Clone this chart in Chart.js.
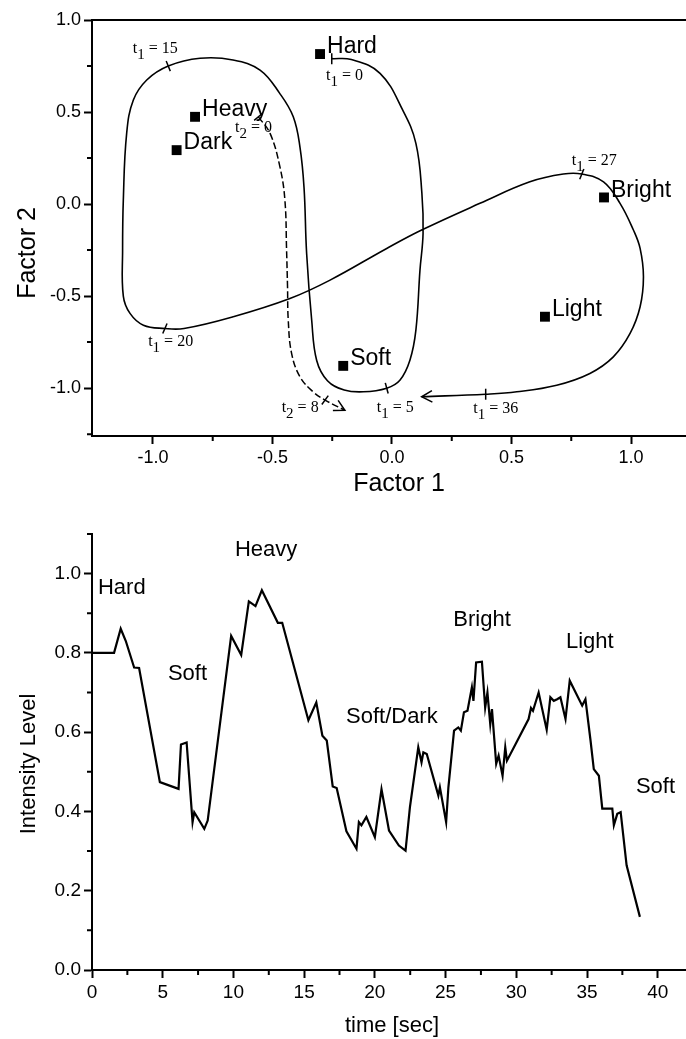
<!DOCTYPE html>
<html><head><meta charset="utf-8">
<script src="https://cdn.jsdelivr.net/npm/chart.js@4.4.1/dist/chart.umd.min.js"></script>
<style>
html,body{margin:0;padding:0;background:#fff;}
#wrap{position:relative;width:686px;height:1039px;overflow:hidden;background:#fff;}
#c1{position:absolute;left:0;top:0;}
#c2{position:absolute;left:0;top:510px;}
</style></head><body>
<div id="wrap"><canvas id="c1" width="686" height="510"></canvas><canvas id="c2" width="686" height="529"></canvas></div>
<script>
// ---------- Top chart: perceptual space ----------
const attributeNames = ['Hard', 'Heavy', 'Dark', 'Bright', 'Light', 'Soft'];
const attributeFactor1 = [-0.301, -0.824, -0.901, 0.887, 0.640, -0.204];
const attributeFactor2 = [0.815, 0.474, 0.293, 0.036, -0.612, -0.879];

// trajectory 1 (solid, t1 = 0 ... 36)
const path1Factor1 = [-0.252, -0.17, -0.05, 0.045, 0.10, 0.125, 0.13, 0.117, 0.10, 0.075, 0.033, -0.022, -0.12, -0.20, -0.27, -0.315, -0.336, -0.357, -0.368, -0.385, -0.413, -0.469, -0.552, -0.665, -0.803, -0.936, -1.026, -1.082, -1.11, -1.124, -1.127, -1.124, -1.096, -1.04, -0.95, -0.87, -0.664, -0.427, -0.259, -0.022, 0.124, 0.368, 0.577, 0.717, 0.794, 0.885, 0.954, 1.01, 1.038, 1.052, 1.038, 0.996, 0.926, 0.828, 0.689, 0.522, 0.392, 0.124];
const path1Factor2 = [0.79, 0.785, 0.71, 0.51, 0.33, 0.06, -0.16, -0.36, -0.685, -0.848, -0.957, -1.0, -1.02, -1.01, -0.96, -0.85, -0.63, -0.27, 0.09, 0.31, 0.474, 0.60, 0.728, 0.783, 0.792, 0.75, 0.674, 0.565, 0.384, 0.02, -0.25, -0.50, -0.594, -0.658, -0.676, -0.676, -0.612, -0.513, -0.413, -0.241, -0.141, 0.004, 0.121, 0.163, 0.163, 0.121, 0.004, -0.141, -0.241, -0.395, -0.558, -0.703, -0.83, -0.92, -0.984, -1.02, -1.033, -1.047];

// trajectory 2 (dashed, t2 = 0 ... 8)
const path2Factor1 = [-0.559, -0.51, -0.469, -0.448, -0.441, -0.437, -0.434, -0.42, -0.385, -0.33, -0.28, -0.197];
const path2Factor2 = [0.474, 0.384, 0.203, 0.022, -0.25, -0.45, -0.63, -0.811, -0.938, -1.02, -1.065, -1.12];

// time marks on the trajectories
const timeMarkSeries = ['1', '1', '1', '1', '1', '1', '2', '2'];
const timeMarkValues = ['0', '5', '15', '20', '27', '36', '0', '8'];
const timeMarkFactor1 = [-0.252, -0.022, -0.936, -0.95, 0.794, 0.392, -0.559, -0.28];
const timeMarkFactor2 = [0.79, -1.0, 0.75, -0.676, 0.163, -1.033, 0.474, -1.065];
const timeLabelFactor1 = [-0.276, -0.064, -1.084, -1.02, 0.752, 0.340, -0.657, -0.4615];
const timeLabelFactor2 = [0.674, -1.129, 0.821, -0.772, 0.212, -1.136, 0.393, -1.129];

const factorTicks = [-1.0, -0.5, 0.0, 0.5, 1.0];
const factorMinorTicks1 = [-0.75, -0.25, 0.25, 0.75];
const factorMinorTicks2 = [-1.25, -0.75, -0.25, 0.25, 0.75];

// ---------- Bottom chart: intensity over time ----------
const timeSec = [0, 1.56, 2.03, 2.39, 2.98, 3.33, 4.8, 6.12, 6.29, 6.69, 7.11, 7.23, 7.94, 8.18, 9.84, 10.55, 11.09, 11.56, 12.01, 13.14, 13.45, 15.3, 15.86, 16.29, 16.6, 17.02, 17.3, 17.99, 18.7, 18.87, 19.05, 19.4, 20.0, 20.47, 21.0, 21.7, 22.17, 22.48, 23.07, 23.3, 23.43, 23.67, 24.49, 24.6, 25.04, 25.2, 25.6, 25.9, 26.08, 26.3, 26.55, 26.86, 26.97, 27.16, 27.57, 27.8, 27.96, 28.16, 28.28, 28.58, 28.75, 29.03, 29.22, 29.34, 30.87, 31.04, 31.18, 31.58, 32.15, 32.41, 32.65, 32.89, 33.12, 33.48, 33.78, 34.66, 34.89, 35.25, 35.48, 35.84, 36.08, 36.79, 36.9, 37.14, 37.38, 37.8, 38.74];
const intensityLevel = [0.80, 0.80, 0.861, 0.83, 0.763, 0.762, 0.474, 0.457, 0.569, 0.574, 0.373, 0.398, 0.356, 0.377, 0.843, 0.795, 0.93, 0.918, 0.958, 0.876, 0.876, 0.63, 0.675, 0.591, 0.579, 0.463, 0.459, 0.35, 0.306, 0.373, 0.365, 0.386, 0.335, 0.456, 0.352, 0.314, 0.301, 0.411, 0.562, 0.524, 0.549, 0.545, 0.44, 0.461, 0.373, 0.461, 0.604, 0.612, 0.604, 0.65, 0.654, 0.713, 0.679, 0.776, 0.778, 0.662, 0.70, 0.62, 0.658, 0.52, 0.541, 0.49, 0.562, 0.528, 0.633, 0.661, 0.654, 0.70, 0.606, 0.688, 0.679, 0.683, 0.688, 0.633, 0.73, 0.667, 0.683, 0.579, 0.507, 0.49, 0.407, 0.407, 0.365, 0.394, 0.398, 0.264, 0.134];

const segmentLabels = ['Hard', 'Soft', 'Heavy', 'Soft/Dark', 'Bright', 'Light', 'Soft'];
const segmentLabelTime = [0.42, 5.37, 10.11, 17.96, 25.55, 33.51, 38.46];
const segmentLabelLevel = [0.964, 0.747, 1.06, 0.639, 0.883, 0.828, 0.462];

const timeTicks = [0, 5, 10, 15, 20, 25, 30, 35, 40];
const timeMinorTicks = [2.5, 7.5, 12.5, 17.5, 22.5, 27.5, 32.5, 37.5];
const intensityTicks = [0.0, 0.2, 0.4, 0.6, 0.8, 1.0];
const intensityMinorTicks = [0.1, 0.3, 0.5, 0.7, 0.9, 1.1];

// ---------- styling helpers ----------
const SANS = "'Liberation Sans', Arial, Helvetica, sans-serif";
const SERIF = "'Liberation Serif', 'Times New Roman', serif";
Chart.defaults.font.family = SANS;
Chart.defaults.color = '#000';
const markAngles = [90, 75, 68, 113, 112, 90, 140, 126];

function zip(a, b) { return a.map((v, i) => ({ x: v, y: b[i] })); }

function axisCommon(fontSize, ticksArr, afterFitFn) {
  return {
    type: 'linear',
    grid: { display: true, drawOnChartArea: false, drawTicks: true, tickLength: 8, tickWidth: 2, tickColor: '#000', color: '#000' },
    border: { display: true, color: '#000', width: 2 },
    ticks: { font: { size: fontSize }, color: '#000', autoSkip: false, maxRotation: 0, callback: v => Number(v).toFixed(ticksArr.dec) },
    afterBuildTicks: s => { s.ticks = ticksArr.vals.map(v => ({ value: v })); },
    afterFit: afterFitFn
  };
}

function drawMinor(chart, xVals, yVals, len) {
  const { ctx, chartArea, scales } = chart;
  ctx.save();
  ctx.strokeStyle = '#000'; ctx.lineWidth = 2;
  ctx.beginPath();
  xVals.forEach(v => { const p = scales.x.getPixelForValue(v); ctx.moveTo(p, chartArea.bottom); ctx.lineTo(p, chartArea.bottom + len); });
  yVals.forEach(v => { const p = scales.y.getPixelForValue(v); ctx.moveTo(chartArea.left, p); ctx.lineTo(chartArea.left - len, p); });
  ctx.stroke();
  ctx.restore();
}

function drawTitle(ctx, text, x, y, size, rotate) {
  ctx.save();
  ctx.font = size + 'px ' + SANS;
  ctx.fillStyle = '#000';
  ctx.textAlign = 'center'; ctx.textBaseline = 'middle';
  ctx.translate(x, y);
  if (rotate) ctx.rotate(-Math.PI / 2);
  ctx.fillText(text, 0, 0);
  ctx.restore();
}

function drawArrow(ctx, from, to, len, ang) {
  const a = Math.atan2(to.y - from.y, to.x - from.x);
  ctx.beginPath();
  ctx.moveTo(to.x - len * Math.cos(a - ang), to.y - len * Math.sin(a - ang));
  ctx.lineTo(to.x, to.y);
  ctx.lineTo(to.x - len * Math.cos(a + ang), to.y - len * Math.sin(a + ang));
  ctx.stroke();
}

// ---------- top chart ----------
const topDecor = {
  id: 'topDecor',
  afterDatasetsDraw(chart) {
    const { ctx, chartArea, scales: { x, y } } = chart;
    ctx.save();
    ctx.strokeStyle = '#000'; ctx.lineWidth = 2;
    ctx.beginPath(); ctx.moveTo(chartArea.left, chartArea.top); ctx.lineTo(chartArea.right, chartArea.top); ctx.stroke();
    ctx.lineWidth = 1.5;
    [0, 1].forEach(i => {
      const pts = chart.getDatasetMeta(i).data;
      drawArrow(ctx, pts[pts.length - 2], pts[pts.length - 1], 12, 0.5);
    });
    ctx.fillStyle = '#000';
    ctx.font = '23px ' + SANS;
    ctx.textAlign = 'left'; ctx.textBaseline = 'middle';
    attributeNames.forEach((n, i) => {
      ctx.fillText(n, x.getPixelForValue(attributeFactor1[i]) + 7, y.getPixelForValue(attributeFactor2[i]) - 7);
    });
    ctx.textBaseline = 'alphabetic';
    timeMarkValues.forEach((val, i) => {
      let px = x.getPixelForValue(timeLabelFactor1[i]);
      const py = y.getPixelForValue(timeLabelFactor2[i]);
      ctx.font = '16px ' + SERIF;
      ctx.fillText('t', px, py); px += ctx.measureText('t').width;
      ctx.font = '15px ' + SERIF;
      ctx.fillText(timeMarkSeries[i], px, py + 6); px += ctx.measureText(timeMarkSeries[i]).width;
      ctx.font = '16px ' + SERIF;
      ctx.fillText(' = ' + val, px, py);
    });
    ctx.restore();
    drawMinor(chart, factorMinorTicks1, factorMinorTicks2, 5);
  },
  afterDraw(chart) {
    drawTitle(chart.ctx, 'Factor 2', 28, 253, 25, true);
    drawTitle(chart.ctx, 'Factor 1', 399, 484, 25, false);
  }
};

new Chart(document.getElementById('c1'), {
  type: 'scatter',
  data: {
    datasets: [
      { data: zip(path1Factor1, path1Factor2), showLine: true, borderColor: '#000', borderWidth: 1.6, tension: 0.4, pointRadius: 0, fill: false },
      { data: zip(path2Factor1, path2Factor2), showLine: true, borderColor: '#000', borderWidth: 1.5, borderDash: [7, 3], tension: 0.4, pointRadius: 0, fill: false },
      { data: zip(timeMarkFactor1, timeMarkFactor2), showLine: false, pointStyle: 'line', pointRadius: 5.5, pointBorderWidth: 1.5, pointBorderColor: '#000', pointRotation: markAngles },
      { data: zip(attributeFactor1, attributeFactor2), showLine: false, pointStyle: 'rect', pointRadius: 7, pointBackgroundColor: '#000', pointBorderColor: '#000', pointBorderWidth: 0 }
    ]
  },
  options: {
    responsive: false, animation: false, devicePixelRatio: 1, events: [],
    layout: { autoPadding: false, padding: { top: 20, right: 0, bottom: 0, left: 0 } },
    plugins: { legend: { display: false }, tooltip: { enabled: false } },
    scales: {
      x: Object.assign(axisCommon(18, { vals: factorTicks, dec: 1 }, s => { s.height = 74; }), { min: -1.255, max: 1.23, position: 'bottom' }),
      y: Object.assign(axisCommon(18, { vals: factorTicks, dec: 1 }, s => { s.width = 92; }), { min: -1.26, max: 1.0, position: 'left' })
    }
  },
  plugins: [topDecor]
});

// ---------- bottom chart ----------
const bottomDecor = {
  id: 'bottomDecor',
  afterDatasetsDraw(chart) {
    const { ctx, scales: { x, y } } = chart;
    ctx.save();
    ctx.fillStyle = '#000';
    ctx.font = '22px ' + SANS;
    ctx.textAlign = 'left'; ctx.textBaseline = 'middle';
    segmentLabels.forEach((n, i) => {
      ctx.fillText(n, x.getPixelForValue(segmentLabelTime[i]), y.getPixelForValue(segmentLabelLevel[i]));
    });
    ctx.restore();
    drawMinor(chart, timeMinorTicks, intensityMinorTicks, 5);
  },
  afterDraw(chart) {
    drawTitle(chart.ctx, 'Intensity Level', 29, 254, 22, true);
    drawTitle(chart.ctx, 'time [sec]', 392, 516, 22, false);
  }
};

new Chart(document.getElementById('c2'), {
  type: 'scatter',
  data: {
    datasets: [
      { data: zip(timeSec, intensityLevel), showLine: true, borderColor: '#000', borderWidth: 2.2, tension: 0, pointRadius: 0, fill: false }
    ]
  },
  options: {
    responsive: false, animation: false, devicePixelRatio: 1, events: [],
    layout: { autoPadding: false, padding: { top: 24, right: 0, bottom: 0, left: 0 } },
    plugins: { legend: { display: false }, tooltip: { enabled: false } },
    scales: {
      x: Object.assign(axisCommon(19, { vals: timeTicks, dec: 0 }, s => { s.height = 69; }), { min: 0, max: 42, position: 'bottom' }),
      y: Object.assign(axisCommon(19, { vals: intensityTicks, dec: 1 }, s => { s.width = 92; }), { min: 0, max: 1.1, position: 'left' })
    }
  },
  plugins: [bottomDecor]
});
</script>
</body></html>
